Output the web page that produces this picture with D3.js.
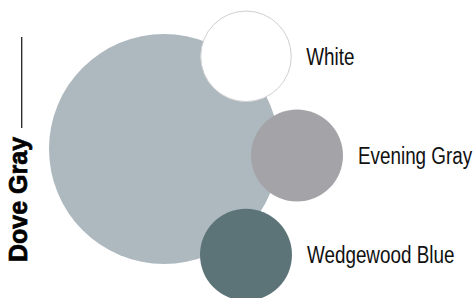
<!DOCTYPE html>
<html><head><meta charset="utf-8">
<script src="https://cdn.jsdelivr.net/npm/d3@7"></script>
<style>html,body{margin:0;padding:0;background:#fff;}svg{display:block;}</style>
</head><body>
<script>
// data
const mainName = "Dove Gray";
const mainColor = "#aeb9bf";
const mainValue = 100;
const swatchNames = ["White", "Evening Gray", "Wedgewood Blue"];
const swatchColors = ["#ffffff", "#a4a3a8", "#5c7478"];
const swatchValues = [15.5, 16, 16];

const W = 474, H = 298;
const svg = d3.select("body").append("svg").attr("width", W).attr("height", H);

const rScale = d3.scaleSqrt().domain([0, 100]).range([0, 115]);
const cx = 164, cy = 149;

// main circle
svg.append("circle").attr("cx", cx).attr("cy", cy).attr("r", rScale(mainValue)).attr("fill", mainColor);

// swatch layout
const yScale = d3.scalePoint().domain(swatchNames).range([56.3, 254.8]);
const xScale = d3.scaleLinear().domain([0, 1]).range([297, 246]);
const mid = (swatchNames.length - 1) / 2;
const swatches = swatchNames.map((n, i) => ({
  name: n, color: swatchColors[i], r: rScale(swatchValues[i]),
  x: xScale(Math.abs(i - mid)), y: yScale(n)
}));

const g = svg.selectAll("g.sw").data(swatches).join("g").attr("class", "sw");
g.append("circle").attr("cx", d => d.x).attr("cy", d => d.y).attr("r", d => d.r)
  .attr("fill", d => d.color)
  .attr("stroke", d => d.color === "#ffffff" ? "#cfcfcf" : "none").attr("stroke-width", 1);
g.append("text")
  .attr("transform", d => `translate(${d.x + d.r + 15},${d.y + 8.6}) scale(0.82,1)`)
  .attr("font-family", "'Liberation Sans', Arial, sans-serif")
  .attr("font-size", 23).attr("fill", "#111").text(d => d.name);

// vertical title + rule
svg.append("text").attr("transform", "translate(26.5,262) rotate(-90)")
  .attr("font-family", "'Liberation Sans', Arial, sans-serif").attr("font-weight", "bold")
  .attr("font-size", 25).attr("fill", "#000").attr("stroke", "#000").attr("stroke-width", 0.7)
  .text(mainName);
svg.append("line").attr("x1", 21.7).attr("x2", 21.7).attr("y1", 37).attr("y2", 128)
  .attr("stroke", "#222").attr("stroke-width", 1.3);
</script>
</body></html>
